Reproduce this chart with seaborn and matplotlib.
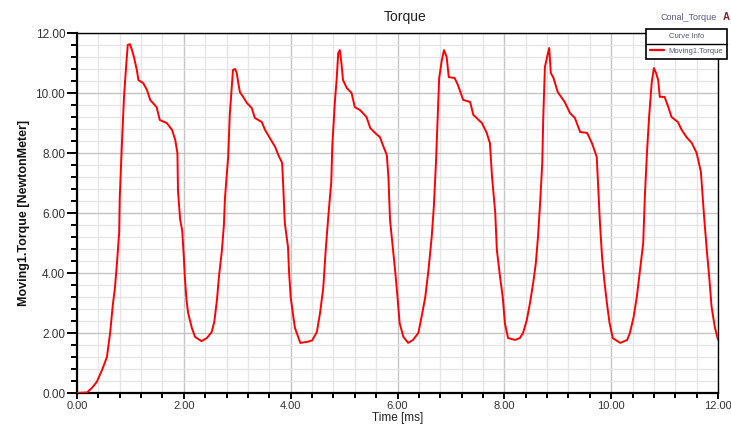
import matplotlib
matplotlib.use("Agg")
import matplotlib.pyplot as plt
import seaborn as sns
import pandas as pd
from matplotlib.ticker import MultipleLocator, FormatStrFormatter
from matplotlib.lines import Line2D

time_ms = [
    0.00, 0.19, 0.28, 0.37, 0.47, 0.56, 0.62, 0.67, 0.71, 0.75, 0.79, 0.80, 0.84, 0.88,
    0.92, 0.95, 0.99, 1.03, 1.07, 1.12, 1.15, 1.24, 1.31, 1.37, 1.49, 1.55, 1.68, 1.78,
    1.84, 1.88, 1.89, 1.93, 1.97, 2.00, 2.02, 2.05, 2.08, 2.15, 2.21, 2.33, 2.43, 2.52,
    2.57, 2.62, 2.66, 2.71, 2.75, 2.77, 2.83, 2.86, 2.90, 2.92, 2.96, 2.99, 3.02, 3.05,
    3.11, 3.18, 3.27, 3.33, 3.46, 3.52, 3.61, 3.71, 3.77, 3.84, 3.86, 3.89, 3.95, 3.97,
    4.00, 4.04, 4.08, 4.18, 4.30, 4.40, 4.49, 4.55, 4.61, 4.66, 4.71, 4.76, 4.78, 4.83,
    4.86, 4.89, 4.92, 4.95, 4.98, 5.05, 5.14, 5.20, 5.30, 5.42, 5.49, 5.58, 5.67, 5.74,
    5.80, 5.83, 5.86, 5.91, 5.96, 6.00, 6.04, 6.11, 6.20, 6.29, 6.39, 6.45, 6.52, 6.58,
    6.64, 6.68, 6.72, 6.75, 6.78, 6.83, 6.87, 6.92, 6.96, 7.07, 7.13, 7.23, 7.36, 7.42,
    7.58, 7.67, 7.73, 7.77, 7.83, 7.86, 7.92, 7.97, 8.01, 8.07, 8.20, 8.29, 8.35, 8.42,
    8.48, 8.54, 8.59, 8.63, 8.67, 8.71, 8.73, 8.76, 8.80, 8.84, 8.87, 8.92, 9.00, 9.13,
    9.23, 9.32, 9.42, 9.55, 9.64, 9.73, 9.76, 9.79, 9.83, 9.87, 9.92, 9.97, 10.03, 10.17,
    10.30, 10.35, 10.42, 10.48, 10.54, 10.60, 10.63, 10.67, 10.71, 10.76, 10.80, 10.84,
    10.88, 10.91, 11.00, 11.07, 11.13, 11.25, 11.32, 11.41, 11.51, 11.60, 11.68, 11.74,
    11.79, 11.84, 11.88, 11.94, 12.00,
]

torque_nm = [
    0.00, 0.02, 0.17, 0.37, 0.77, 1.20, 2.00, 2.93, 3.50, 4.37, 5.37, 6.50, 8.27, 9.87,
    10.90, 11.60, 11.63, 11.43, 11.17, 10.77, 10.43, 10.33, 10.10, 9.77, 9.53, 9.10, 9.00, 8.77,
    8.43, 8.00, 6.77, 5.80, 5.40, 4.53, 3.83, 3.10, 2.67, 2.17, 1.87, 1.73, 1.83, 2.03,
    2.37, 3.10, 3.93, 4.70, 5.60, 6.50, 7.87, 9.27, 10.27, 10.77, 10.80, 10.67, 10.33, 10.03,
    9.87, 9.67, 9.50, 9.17, 9.03, 8.77, 8.50, 8.20, 7.93, 7.67, 6.93, 5.67, 4.87, 4.03,
    3.20, 2.67, 2.17, 1.67, 1.70, 1.75, 2.03, 2.67, 3.50, 4.87, 6.00, 7.03, 8.27, 9.77,
    10.43, 11.33, 11.43, 11.00, 10.43, 10.17, 10.00, 9.53, 9.43, 9.20, 8.83, 8.67, 8.53, 8.20,
    7.93, 7.20, 5.77, 4.87, 4.00, 3.20, 2.33, 1.87, 1.67, 1.77, 2.00, 2.53, 3.20, 4.10,
    5.20, 6.20, 7.67, 9.10, 10.50, 11.10, 11.43, 11.20, 10.53, 10.50, 10.27, 9.77, 9.70, 9.27,
    9.00, 8.67, 8.33, 7.20, 6.00, 4.77, 3.87, 3.20, 2.33, 1.83, 1.77, 1.83, 2.00, 2.43,
    3.00, 3.67, 4.33, 5.20, 6.33, 7.67, 9.27, 10.87, 11.20, 11.50, 10.67, 10.50, 10.03, 9.70,
    9.33, 9.17, 8.70, 8.67, 8.33, 7.87, 6.77, 5.67, 4.53, 3.77, 3.00, 2.33, 1.83, 1.67,
    1.77, 2.00, 2.53, 3.20, 4.10, 5.00, 6.53, 8.00, 9.20, 10.37, 10.83, 10.67,
    10.43, 9.87, 9.87, 9.53, 9.20, 9.03, 8.77, 8.53, 8.33, 8.00, 7.37, 5.87,
    4.77, 3.77, 2.87, 2.20, 1.77,
]

series_name = "Moving1.Torque"
title_text = "Torque"
plot_name = "Conal_Torque"
legend_header = "Curve Info"
x_label = "Time [ms]"
y_label = "Moving1.Torque [NewtonMeter]"

sns.set_theme(style="white")
plt.rcParams["font.family"] = ["Liberation Sans Narrow", "Liberation Sans", "DejaVu Sans"]

df = pd.DataFrame({"t": time_ms, "v": torque_nm})

fig = plt.figure(figsize=(7.31, 4.26), dpi=100)
ax = fig.add_axes([77 / 731, 1 - 393 / 426, (718 - 77) / 731, (393 - 33) / 426])

sns.lineplot(data=df, x="t", y="v", ax=ax, color="#ff0000", linewidth=1.4,
             estimator=None, sort=False, zorder=3)

ax.set_xlim(0, 12)
ax.set_ylim(0, 12)
ax.xaxis.set_major_locator(MultipleLocator(2))
ax.xaxis.set_minor_locator(MultipleLocator(0.4))
ax.yaxis.set_major_locator(MultipleLocator(2))
ax.yaxis.set_minor_locator(MultipleLocator(0.4))
ax.xaxis.set_major_formatter(FormatStrFormatter("%.2f"))
ax.yaxis.set_major_formatter(FormatStrFormatter("%.2f"))

ax.grid(which="major", color="#c4c4c4", linewidth=1.0)
ax.grid(which="minor", color="#e6e6e6", linewidth=1.0)
ax.set_axisbelow(True)

for s in ax.spines.values():
    s.set_color("black")
    s.set_linewidth(1.0)
ax.spines["left"].set_linewidth(1.6)
ax.spines["bottom"].set_linewidth(1.6)

ax.tick_params(axis="y", which="major", direction="out", length=7, width=1.4, color="black",
               labelsize=8.5, pad=1.5, labelcolor="#333333", right=False, left=True)
ax.tick_params(axis="y", which="minor", direction="out", length=4.5, width=1.4, color="black",
               right=False, left=True)
ax.tick_params(axis="x", which="major", direction="out", length=4.5, width=1.4, color="black",
               labelsize=8, pad=1.5, labelcolor="#333333", top=False, bottom=True)
ax.tick_params(axis="x", which="minor", direction="out", length=3.5, width=1.4, color="black",
               top=False, bottom=True)

ax.set_xlabel(x_label, fontsize=8.5, labelpad=0.5, color="#222222")
ax.set_ylabel(y_label, fontsize=9, fontweight="bold", labelpad=4, color="#111111")

fig.text(405 / 731, 1 - 17 / 426, title_text, ha="center", va="center", fontsize=10, color="#222222")
fig.text(717 / 731, 1 - 17 / 426, plot_name, ha="right", va="center", fontsize=6.5, color="#5a5a8a")
fig.text(726 / 731, 1 - 17 / 426, "A", ha="center", va="center", fontsize=7,
         fontweight="bold", color="#802020")

# legend box (Curve Info)
handle = Line2D([], [], color="#ff0000", linewidth=1.6)
leg = ax.legend([handle], [series_name], title=legend_header,
                loc="upper left", bbox_to_anchor=(646 / 731, 1 - 29 / 426),
                bbox_transform=fig.transFigure, fontsize=5.5, title_fontsize=5.5,
                frameon=True, fancybox=False, borderpad=0.5, handlelength=1.8,
                handletextpad=0.6, borderaxespad=0, labelspacing=1.0)
leg.get_frame().set_edgecolor("black")
leg.get_frame().set_linewidth(1.2)
leg.get_frame().set_facecolor("white")
leg.get_frame().set_alpha(1)
leg.set_zorder(5)
for txt in leg.get_texts():
    txt.set_color("#555577")
leg.get_title().set_color("#555577")

fig.canvas.draw()
bb = leg.get_window_extent()
title_bb = leg.get_title().get_window_extent()
entry_bb = leg.get_texts()[0].get_window_extent()
ymid = (title_bb.y0 + entry_bb.y1) / 2
x0, y0 = fig.transFigure.inverted().transform((bb.x0, ymid))
x1, _ = fig.transFigure.inverted().transform((bb.x1, ymid))
fig.add_artist(Line2D([x0, x1], [y0, y0], transform=fig.transFigure,
                      color="black", linewidth=1.0, zorder=6))

fig.savefig("out.png", dpi=100)
